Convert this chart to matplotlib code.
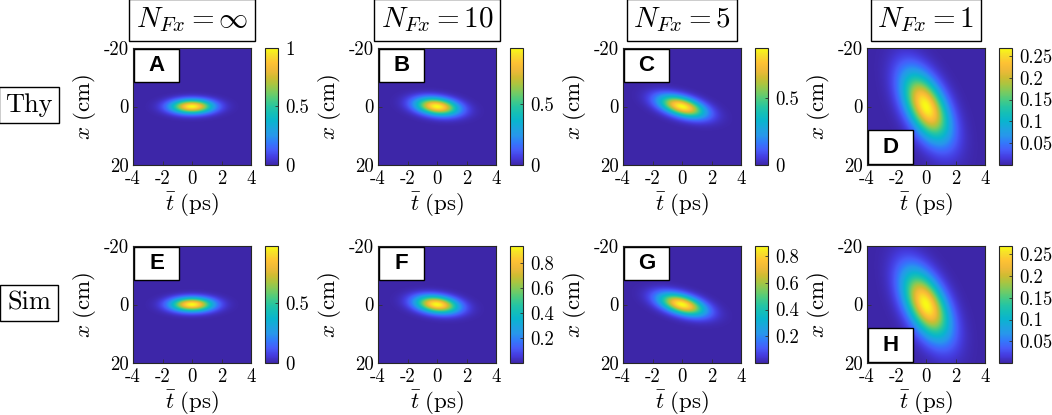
import numpy as np
import matplotlib
matplotlib.use("Agg")
import matplotlib.pyplot as plt
from matplotlib.colors import LinearSegmentedColormap
from matplotlib.patches import Rectangle

plt.rcParams['mathtext.fontset'] = 'cm'
plt.rcParams['axes.unicode_minus'] = False

# panel letters, row order: Thy (top), Sim (bottom)
letters = ['A', 'B', 'C', 'D', 'E', 'F', 'G', 'H']
col_titles = [r'$N_{Fx}=\infty$', r'$N_{Fx}=10$', r'$N_{Fx}=5$', r'$N_{Fx}=1$']
row_names = ['Thy', 'Sim']

# gaussian spot parameters
peak = [1.0, 0.96, 0.87, 0.268, 0.98, 0.94, 0.875, 0.269]
sig_t = [0.95, 0.93, 0.9, 0.9, 0.95, 0.93, 0.9, 0.9]        # ps
sig_x = [1.6, 2.0, 2.5, 7.8, 1.6, 2.0, 2.5, 7.8]            # cm
tilt = [0.0, 0.12, 0.2, 0.07, 0.0, 0.12, 0.2, 0.07]         # ps per cm

cbar_ticks = [[0, 0.5, 1], [0, 0.5], [0, 0.5], [0.05, 0.1, 0.15, 0.2, 0.25],
              [0, 0.5], [0.2, 0.4, 0.6, 0.8], [0.2, 0.4, 0.6, 0.8],
              [0.05, 0.1, 0.15, 0.2, 0.25]]
cbar_labels = [['0', '0.5', '1'], ['0', '0.5'], ['0', '0.5'],
               ['0.05', '0.1', '0.15', '0.2', '0.25'], ['0', '0.5'],
               ['0.2', '0.4', '0.6', '0.8'], ['0.2', '0.4', '0.6', '0.8'],
               ['0.05', '0.1', '0.15', '0.2', '0.25']]
letter_at_bottom = [False, False, False, True, False, False, False, True]

t_ticks = [-4, -2, 0, 2, 4]
x_ticks = [-20, 0, 20]

# parula-like colormap
parula_pts = [
    (0.2422, 0.1504, 0.6603), (0.2691, 0.2326, 0.8716), (0.2780, 0.3556, 0.9777),
    (0.2000, 0.4700, 0.9850), (0.1540, 0.5902, 0.9218), (0.1085, 0.6463, 0.8735),
    (0.0356, 0.7070, 0.8097), (0.0759, 0.7443, 0.7253), (0.1540, 0.7750, 0.6300),
    (0.3000, 0.7950, 0.5000), (0.4786, 0.7948, 0.3733), (0.6579, 0.7739, 0.2575),
    (0.8138, 0.7352, 0.1962), (0.9363, 0.7262, 0.2224), (0.9966, 0.7607, 0.2014),
    (0.9706, 0.8668, 0.1656), (0.9769, 0.9839, 0.0805)]
parula = LinearSegmentedColormap.from_list('parula', parula_pts, N=256)

W, H = 1052, 415
fig = plt.figure(figsize=(W / 100, H / 100), dpi=100)

def px_axes(left, top, w, h):
    return fig.add_axes([left / W, 1 - (top + h) / H, w / W, h / H])

col_left = [133, 378, 623, 867]
row_top = [48, 246]
aw, ah = 118, 117

t = np.linspace(-4, 4, 400)
x = np.linspace(-20, 20, 400)
T, X = np.meshgrid(t, x)

for i in range(8):
    r, c = divmod(i, 4)
    ax = px_axes(col_left[c], row_top[r], aw, ah)
    Z = peak[i] * np.exp(-(T - tilt[i] * X) ** 2 / (2 * sig_t[i] ** 2)
                         - X ** 2 / (2 * sig_x[i] ** 2))
    im = ax.imshow(Z, extent=[-4, 4, 20, -20], aspect='auto', cmap=parula,
                   vmin=0, vmax=peak[i], interpolation='bilinear')
    ax.set_xlim(-4, 4)
    ax.set_ylim(20, -20)
    ax.set_xticks(t_ticks)
    ax.set_xticklabels([str(v) for v in t_ticks], family='cmr10', fontsize=13.5)
    ax.set_yticks(x_ticks)
    ax.set_yticklabels([str(v) for v in x_ticks], family='cmr10', fontsize=13.5)
    ax.tick_params(direction='in', length=3, width=0.6, color='0.2')
    ax.tick_params(axis='x', pad=4)
    ax.tick_params(axis='y', pad=3)
    for s in ax.spines.values():
        s.set_linewidth(0.8)
        s.set_color('0.15')
    ax.set_xlabel(r'$\bar{t}\ (\mathrm{ps})$', fontsize=16.5, labelpad=1)
    ax.set_ylabel(r'$x\ (\mathrm{cm})$', fontsize=16.5, labelpad=4)

    # letter box
    by = 0.0 if letter_at_bottom[i] else 0.70
    ax.add_patch(Rectangle((0.01, by + 0.01), 0.38, 0.285, transform=ax.transAxes,
                           facecolor='white', edgecolor='black', lw=1, zorder=5))
    ax.text(0.2, by + 0.152, letters[i], transform=ax.transAxes, ha='center',
            va='center', fontsize=16, fontweight='bold', family='Liberation Sans',
            zorder=6)

    cax = px_axes(col_left[c] + 132, row_top[r], 13, ah)
    cb = fig.colorbar(im, cax=cax, ticks=cbar_ticks[i])
    cb.ax.set_yticklabels(cbar_labels[i], family='cmr10', fontsize=13.5)
    cb.ax.tick_params(direction='in', length=2.5, width=0.6, pad=5, color='0.2')
    cb.outline.set_linewidth(0.8)
    cb.outline.set_edgecolor('0.15')

for c in range(4):
    fig.text((col_left[c] + aw / 2) / W, 1 - 20 / H, col_titles[c], fontsize=21,
             ha='center', va='center',
             bbox=dict(boxstyle='square,pad=0.22', fc='white', ec='black', lw=1))

for r in range(2):
    yc = [105, 303][r]
    fig.text(29 / W, 1 - yc / H, row_names[r], fontsize=19, family='cmr10',
             ha='center', va='center',
             bbox=dict(boxstyle='square,pad=0.25', fc='white', ec='black', lw=1))

fig.savefig('out.png', dpi=100)
